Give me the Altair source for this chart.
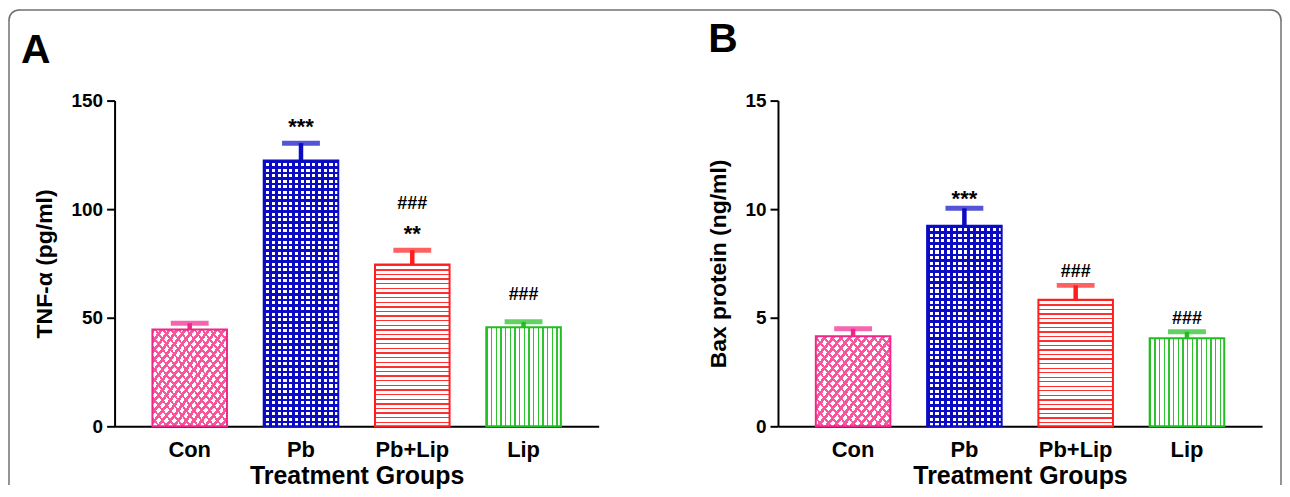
import math
import altair as alt
import pandas as pd

# ---------------- data ----------------
groups = ["Con", "Pb", "Pb+Lip", "Lip"]
tnf_mean = [44.6, 122.4, 74.5, 45.6]
tnf_upper = [47.5, 130.4, 81.1, 48.1]
bax_mean = [4.15, 9.24, 5.83, 4.06]
bax_upper = [4.49, 10.04, 6.49, 4.35]
tnf_ticks = [0, 50, 100, 150]
bax_ticks = [0, 5, 10, 15]
tnf_sig_group = ["Pb", "Pb+Lip", "Pb+Lip", "Lip"]
tnf_sig_text = ["***", "**", "###", "###"]
tnf_sig_level = [0, 0, 1, 0]
bax_sig_group = ["Pb", "Pb+Lip", "Lip"]
bax_sig_text = ["***", "###", "###"]
bax_sig_level = [0, 0, 0]

# ---------------- styling ----------------
FONT = "Liberation Sans"
W, H = 486, 327
PAD_IN, PAD_OUT = 0.33, 0.34
CLEAR = "rgba(255,255,255,0)"
EDGE = {"Con": "#f0268c", "Pb": "#0b0bc4", "Pb+Lip": "#ff1e1e", "Lip": "#22bd22"}


def stripes(colors, n, duty, x1, y1, x2, y2, bg):
    stops = []
    for i in range(n):
        c = colors[i % len(colors)]
        a, b, e = round(i / n, 5), round((i + duty) / n, 5), round((i + 1) / n, 5)
        stops += [{"offset": a, "color": c}, {"offset": b, "color": c},
                  {"offset": b, "color": bg}, {"offset": e, "color": bg}]
    return {"gradient": "linear", "x1": x1, "y1": y1, "x2": x2, "y2": y2, "stops": stops}


def fills(g, w, h):
    if g == "Con":
        n = max(2, round(1 / (3.2 * math.sqrt(1 / w ** 2 + 1 / h ** 2))))
        col = ["#f5569c"]
        return [stripes(col, n, 0.45, 0, 0, 1, 1, "#ffffff"),
                stripes(col, n, 0.3, 1, 0, 0, 1, CLEAR)]
    if g == "Pb":
        return [stripes(["#0b0bc4"], max(2, round(w / 5.6)), 0.45, 0, 0, 1, 0, "#ffffff"),
                stripes(["#0b0bc4"], max(2, round(h / 5.6)), 0.45, 0, 0, 0, 1, CLEAR)]
    if g == "Pb+Lip":
        return [stripes(["#ff3030"], max(2, round(h / 4.6)), 0.3, 0, 0, 0, 1, "#ffffff")]
    return [stripes(["#2fc42f"], max(2, round(w / 4.7)), 0.3, 0, 0, 1, 0, "#ffffff")]


def panel(means, uppers, ticks, ytitle, sig_g, sig_t, sig_l, letter, lx, ly, offs, frame):
    ymax = ticks[-1]
    df = pd.DataFrame({"group": groups, "value": means, "upper": uppers})
    sig = pd.DataFrame({"group": sig_g, "label": sig_t, "level": sig_l})
    sig["upper"] = sig["group"].map(dict(zip(groups, uppers)))

    X = alt.X("group:N", title="Treatment Groups",
              scale=alt.Scale(domain=groups, paddingInner=PAD_IN, paddingOuter=PAD_OUT),
              axis=alt.Axis(labelAngle=0, ticks=False, tickSize=0, labelPadding=13,
                            titlePadding=3, labelFontSize=22, titleFontSize=25))
    yscale = alt.Scale(domain=[0, ymax], nice=False, zero=True)
    yaxis = alt.Axis(values=ticks, tickSize=8, labelPadding=4, titlePadding=15,
                     labelFontSize=19, titleFontSize=23, format="d")

    def Y(f):
        return alt.Y(f + ":Q", title=ytitle, scale=yscale, axis=yaxis)

    step = W / (len(groups) - PAD_IN + 2 * PAD_OUT)
    bw = step * (1 - PAD_IN)
    layers = []
    for g, v in zip(groups, means):
        fl = fills(g, bw, v * H / ymax)
        for i, f in enumerate(fl):
            kw = dict(fill=f)
            if i == len(fl) - 1:
                kw.update(stroke=EDGE[g], strokeWidth=2)
            layers.append(alt.Chart(df).transform_filter(alt.datum.group == g)
                          .mark_bar(**kw).encode(x=X, y=Y("value")))

    color = alt.Color("group:N", scale=alt.Scale(domain=groups, range=[EDGE[g] for g in groups]),
                      legend=None)
    layers.append(alt.Chart(df).mark_rule(strokeWidth=4.5)
                  .encode(x=X, y=Y("value"), y2="upper", color=color))
    layers.append(alt.Chart(df).mark_tick(thickness=5, size=38)
                  .encode(x=X, y=Y("upper"), color=color))

    star = sig["label"].str.contains(r"\*")
    for mask, dy, fs in [(star, offs[0], 22),
                         (~star & (sig["level"] == 0), offs[1], 18),
                         (~star & (sig["level"] == 1), offs[2], 18)]:
        sub = sig[mask]
        if len(sub):
            layers.append(alt.Chart(sub).mark_text(dy=dy, fontSize=fs, fontWeight="bold", font=FONT,
                                                   baseline="alphabetic", color="black")
                          .encode(x=X, y=Y("upper"), text="label:N"))

    one = pd.DataFrame({"k": [0]})
    layers.append(alt.Chart(one).mark_text(text=letter, fontSize=41, fontWeight="bold", align="left",
                                           baseline="alphabetic", font=FONT, color="black")
                  .encode(x=alt.value(lx), y=alt.value(ly)))

    if frame:
        FR = dict(color="#707070", strokeWidth=1.5)
        L, T, R, B, r = -106, -91, 1171, 386, 10
        layers += [
            alt.Chart(one).mark_rule(**FR).encode(x=alt.value(L), y=alt.value(T + r), y2=alt.value(B)),
            alt.Chart(one).mark_rule(**FR).encode(x=alt.value(R), y=alt.value(T + r), y2=alt.value(B)),
            alt.Chart(one).mark_rule(**FR).encode(x=alt.value(L + r), x2=alt.value(R - r), y=alt.value(T)),
            alt.Chart(one).mark_arc(filled=False, radius=r, radius2=r, theta=1.5 * math.pi,
                                    theta2=2 * math.pi, strokeJoin="round", **FR)
            .encode(x=alt.value(L + r), y=alt.value(T + r)),
            alt.Chart(one).mark_arc(filled=False, radius=r, radius2=r, theta=0,
                                    theta2=0.5 * math.pi, strokeJoin="round", **FR)
            .encode(x=alt.value(R - r), y=alt.value(T + r)),
        ]
    return alt.layer(*layers).properties(width=W, height=H)


pa = panel(tnf_mean, tnf_upper, tnf_ticks, "TNF-α (pg/ml)", tnf_sig_group, tnf_sig_text,
           tnf_sig_level, "A", -94, -38, (-9, -22, -41), True)
pb = panel(bax_mean, bax_upper, bax_ticks, "Bax protein (ng/ml)", bax_sig_group, bax_sig_text,
           bax_sig_level, "B", -70, -49, (-2, -8, -30), False)

chart = (alt.hconcat(pa, pb, spacing=180, bounds="flush")
         .properties(padding=0)
         .configure_view(stroke=None)
         .configure_axis(labelFont=FONT, titleFont=FONT, labelFontWeight="bold",
                         titleFontWeight="bold", labelColor="black", titleColor="black",
                         domainColor="black", tickColor="black", domainWidth=2, tickWidth=2,
                         grid=False))

chart.save("out.html", embed_options={"renderer": "svg", "actions": False})
